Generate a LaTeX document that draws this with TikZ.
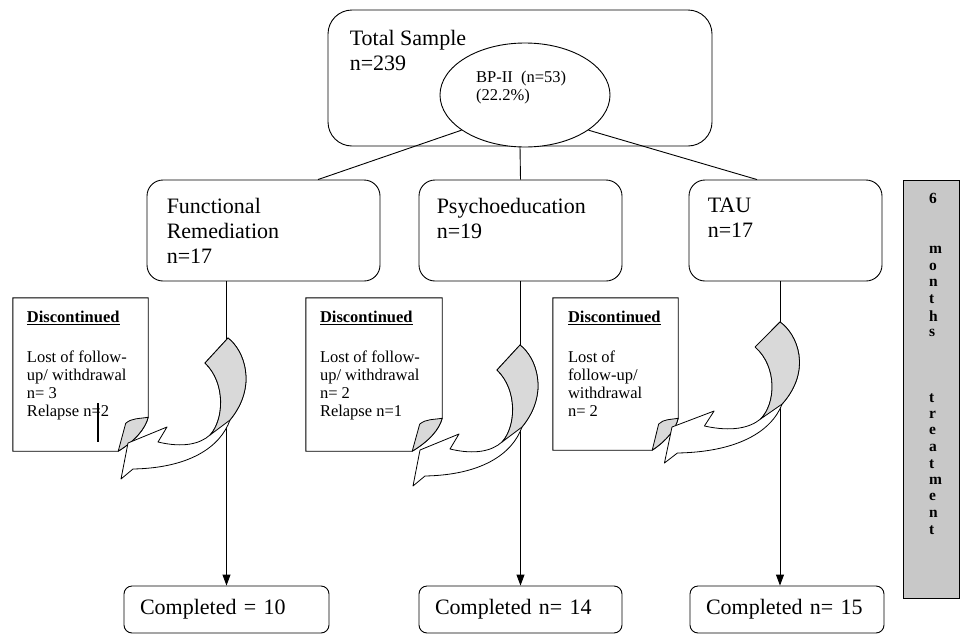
\documentclass[tikz,border=0pt]{standalone}
\usepackage{fontspec}
\setmainfont{Liberation Serif}
\usetikzlibrary{shapes.geometric,arrows.meta}
\definecolor{foldgray}{RGB}{217,217,217}
\definecolor{bargray}{RGB}{200,200,200}

% note with a turned-up corner: node name, fold width, fold height
\newcommand{\dognote}[3]{%
  \draw[notebox] (#1.north west) -- (#1.north east) -- ([shift={(0,-#3)}]#1.south east)
    .. controls ([shift={({-0.1*#2},{-0.65*#3})}]#1.south east) and ([shift={({-0.45*#2},{-0.3*#3})}]#1.south east) .. ([shift={(-#2,0)}]#1.south east)
    -- (#1.south west) -- cycle;
  \draw[foldbox] ([shift={(0,-#3)}]#1.south east)
    .. controls ([shift={({-0.3*#2},{-0.95*#3})}]#1.south east) and ([shift={({-0.55*#2},{-0.98*#3})}]#1.south east) .. ([shift={({-0.75*#2},{-0.82*#3})}]#1.south east)
    -- ([shift={(-#2,0)}]#1.south east)
    .. controls ([shift={({-0.45*#2},{-0.3*#3})}]#1.south east) and ([shift={({-0.1*#2},{-0.65*#3})}]#1.south east) .. ([shift={(0,-#3)}]#1.south east) -- cycle;
}

\tikzset{curlarrow/.pic={
  \draw[arrowbody] (0,0) .. controls (16,12) and (30,48) .. (2,82) .. controls (-8,110) and (-40,130) .. (-95,131)
    -- (-107,141) -- (-100,105) -- (-61,89) -- (-70,104)
    .. controls (-45,110) and (-28,106) .. (-18,97) .. controls (-4,82) and (-2,45) .. (-23,25) -- cycle;
  \draw[arrowback] (0,0) .. controls (16,12) and (30,48) .. (2,82) -- (-18,97)
    .. controls (-4,82) and (-2,45) .. (-23,25) -- cycle;
}}

\begin{document}
\begin{tikzpicture}[x=1pt,y=-1pt]
\tikzstyle{every node}=[inner sep=0pt];
\tikzstyle{bigbox}=[draw,line width=0.9pt,rounded corners=16pt,minimum height=101pt];
\tikzstyle{bigtxt}=[anchor=north west,align=left,font=\fontsize{22}{25}\selectfont];
\tikzstyle{notetxt}=[anchor=north west,align=left,font=\fontsize{16.5}{18}\selectfont];
\tikzstyle{notespace}=[minimum height=153pt];
\tikzstyle{notebox}=[draw,line width=0.9pt,fill=white];
\tikzstyle{foldbox}=[draw,line width=0.8pt,fill=foldgray,line join=round];
\tikzstyle{arrowbody}=[draw,line width=0.8pt,fill=white,line join=round];
\tikzstyle{arrowback}=[draw,line width=0.8pt,fill=foldgray,line join=round];
\tikzstyle{comp}=[draw,line width=0.9pt,rounded corners=8pt,minimum height=47pt,inner xsep=16pt,align=left,font=\fontsize{22}{25}\selectfont];
\tikzstyle{flow}=[line width=0.9pt,-{Triangle[length=11pt,width=8pt]}];
\tikzstyle{link}=[line width=0.9pt];
\tikzstyle{bartxt}=[anchor=west,font=\bfseries\fontsize{15.5}{15.5}\selectfont];

\useasboundingbox (0,0) rectangle (962,635);

  \node[bigbox,rounded corners=24pt,minimum width=384pt,minimum height=136pt] (total) at (520,78) {};
  \node[draw,ellipse,fill=white,line width=0.9pt,minimum width=170pt,minimum height=104pt] (bp) at (525,95) {};
  \node[bigtxt] (totaltxt) at ([shift={(22,20)}]total.north west) {Total Sample\\n=239};
  \node[notetxt] (bptxt) at ([shift={(-49,28)}]bp.north) {BP-II~ (n=53)\\(22.2\%)};

  \node[bigbox,minimum width=233pt] (fr) at (263.5,230.5) {};
  \node[bigbox,minimum width=203pt] (psy) at (520.5,230.5) {};
  \node[bigbox,minimum width=193pt] (tau) at (785.5,230.5) {};
  \node[bigtxt] (frtxt) at ([shift={(20,18)}]fr.north west) {Functional\\Remediation\\n=17};
  \node[bigtxt] (psytxt) at ([shift={(18,18)}]psy.north west) {Psychoeducation\\n=19};
  \node[bigtxt] (tautxt) at ([shift={(19,18)}]tau.north west) {TAU\\n=17};

  \node[comp,text width=173pt] (c1) at (226.5,609.5) {Completed = 10};
  \node[comp,text width=171pt] (c2) at (520.5,609.5) {Completed n= 14};
  \node[comp,text width=162pt] (c3) at (787,609.5) {Completed n= 15};

\draw[link] (bp.-151) -- ([xshift=54.5pt]fr.north);
\draw[link] (total.south) -- (psy.north);
\draw[link] (bp.-29) -- ([xshift=-28.5pt]tau.north);

\foreach \from/\to/\dx in {fr/c1/0, psy/c2/0, tau/c3/-7}
\draw[flow] ([xshift=\dx pt]\to.north |- \from.south) -- ([xshift=\dx pt]\to.north);

  \node[notespace,minimum width=135pt] (n1) at (80.5,374.5) {};
  \node[notespace,minimum width=136pt] (n2) at (374,374.5) {};
  \node[notespace,minimum width=125pt,minimum height=152pt] (n3) at (615.5,374) {};
\dognote{n1}{30}{34}
\dognote{n2}{30}{33}
\dognote{n3}{26}{32}
  \node[notetxt] (n1txt) at ([shift={(14,13)}]n1.north west) {\underline{\textbf{Discontinued}}\\[22pt]Lost of follow-\\up/ withdrawal\\n= 3\\Relapse n=2};
  \node[notetxt] (n2txt) at ([shift={(14,13)}]n2.north west) {\underline{\textbf{Discontinued}}\\[22pt]Lost of follow-\\up/ withdrawal\\n= 2\\Relapse n=1};
  \node[notetxt] (n3txt) at ([shift={(15,13)}]n3.north west) {\underline{\textbf{Discontinued}}\\[22pt]Lost of\\follow-up/\\withdrawal\\n= 2};
\draw[line width=1.4pt] (98,403) -- (98,442);

\pic (a1) at (228,338) {curlarrow};
\pic (a2) at (520,345) {curlarrow};
\pic[xscale=1.08] (a3) at (780,322) {curlarrow};

  \node[draw,fill=bargray,line width=0.9pt,minimum width=56pt,minimum height=418pt] (bar) at (931,389) {};
\foreach \ch/\yy [count=\k] in {6/198, m/250, o/266.5, n/283, t/299.5, h/316, s/332.5,
  t/398, r/414.5, e/431, a/447.5, t/464, m/480.5, e/497, n/513.5, t/530}
  \node[bartxt] (lt\k) at (929,\yy) {\ch};

\end{tikzpicture}
\end{document}
